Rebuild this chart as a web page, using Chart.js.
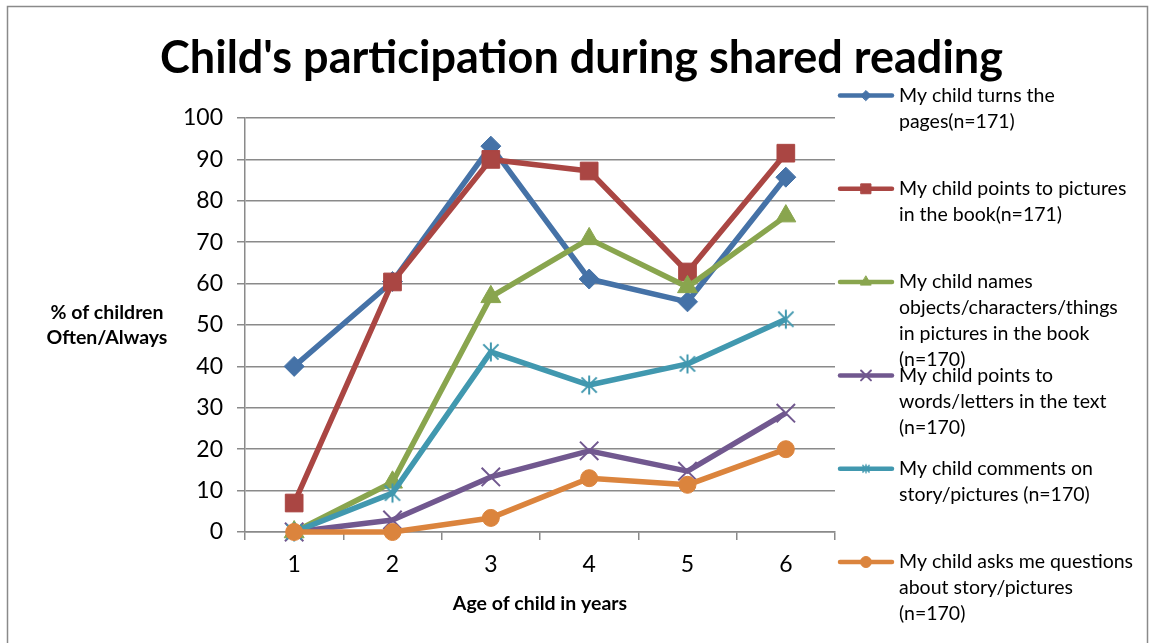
<!DOCTYPE html>
<html>
<head>
<meta charset="utf-8">
<script src="https://cdn.jsdelivr.net/npm/chart.js@4/dist/chart.umd.min.js"></script>
<style>
  html, body { margin: 0; padding: 0; background: #fff; }
  #chart { display: block; }
</style>
</head>
<body>
<canvas id="chart" width="1149" height="643"></canvas>
<script>
// Valores (% de crianças Often/Always por idade)
const ages = ['1', '2', '3', '4', '5', '6'];
const turnsPages = [40, 60.5, 93.2, 61.1, 55.6, 85.7];
const pointsPictures = [7, 60.4, 90, 87.2, 62.8, 91.5];
const namesObjects = [0, 12, 56.8, 70.8, 59.2, 76.3];
const pointsWords = [0, 2.9, 13.3, 19.6, 14.7, 28.7];
const commentsStory = [0, 9.4, 43.5, 35.5, 40.6, 51.4];
const asksQuestions = [0, 0, 3.4, 13, 11.4, 20];

const seriesLabels = [
    'My child turns the pages(n=171)',
    'My child points to pictures in the book(n=171)',
    'My child names objects/characters/things in pictures in the book (n=170)',
    'My child points to words/letters in the text (n=170)',
    'My child comments on story/pictures (n=170)',
    'My child asks me questions about story/pictures (n=170)'
];
const legendLines = [
    ['My child turns the', 'pages(n=171)'],
    ['My child points to pictures', 'in the book(n=171)'],
    ['My child names', 'objects/characters/things', 'in pictures in the book', '(n=170)'],
    ['My child points to', 'words/letters in the text', '(n=170)'],
    ['My child comments on', 'story/pictures (n=170)'],
    ['My child asks me questions', 'about story/pictures', '(n=170)']
];
const chartTitle = "Child's participation during shared reading";
const yTitle = ['% of children', 'Often/Always'];
const xTitle = 'Age of child in years';

const colors = ['#4572A7', '#AA4643', '#89A54E', '#71588F', '#4198AF', '#DB843D'];
const FONT = 'Lato, "Open Sans", sans-serif';
const GRID = '#8a8a8a';

// Marcador asterisco (estilo Excel) para a série "comments"
function makeStar(size, color, lw) {
    const c = document.createElement('canvas');
    c.width = size; c.height = size;
    const g = c.getContext('2d');
    const m = size / 2, r = size / 2 - 1.5;
    g.strokeStyle = color;
    g.lineWidth = lw;
    g.beginPath();
    g.moveTo(m - r * 0.8, m - r * 0.8); g.lineTo(m + r * 0.8, m + r * 0.8);
    g.moveTo(m + r * 0.8, m - r * 0.8); g.lineTo(m - r * 0.8, m + r * 0.8);
    g.moveTo(m, m - r); g.lineTo(m, m + r);
    g.stroke();
    return c;
}
const starBig = makeStar(22, colors[4], 2);
const starSmall = makeStar(12, colors[4], 1.5);

const seriesData = [turnsPages, pointsPictures, namesObjects, pointsWords, commentsStory, asksQuestions];
const pointStyles = ['rectRot', 'rect', 'triangle', 'crossRot', starBig, 'circle'];
const pointRadii = [10, 12.5, 11.5, 13, 11, 8.5];
const pointBorders = [1, 1, 1, 2, 1, 1];
const legendStyles = ['rectRot', 'rect', 'triangle', 'crossRot', starSmall, 'circle'];
const legendRadii = [5, 7, 6, 7, 6, 5.5];

const datasets = seriesData.map((d, i) => ({
    label: seriesLabels[i],
    data: d,
    borderColor: colors[i],
    backgroundColor: colors[i],
    borderWidth: 5.5,
    borderJoinStyle: 'round',
    tension: 0,
    clip: false,
    pointStyle: pointStyles[i],
    pointRadius: pointRadii[i],
    pointHoverRadius: pointRadii[i],
    pointBorderWidth: pointBorders[i],
    pointBackgroundColor: colors[i],
    pointBorderColor: colors[i],
    order: seriesData.length - i // séries posteriores ficam por cima, como no Excel
}));

const decorPlugin = {
    id: 'decor',
    afterDraw(chart) {
        const ctx = chart.ctx;
        ctx.save();

        // moldura
        ctx.strokeStyle = GRID;
        ctx.lineWidth = 1.5;
        ctx.strokeRect(7.5, 6.5, 1140, 700);

        // título (ajustado na largura)
        ctx.fillStyle = '#000';
        ctx.font = 'bold 46px ' + FONT;
        ctx.textBaseline = 'alphabetic';
        ctx.textAlign = 'left';
        const tw = ctx.measureText(chartTitle).width;
        const targetW = 843;
        ctx.save();
        ctx.translate(160, 73);
        ctx.scale(targetW / tw, 1);
        ctx.fillText(chartTitle, 0, 0);
        ctx.restore();

        // títulos dos eixos
        ctx.font = 'bold 19.5px ' + FONT;
        ctx.textAlign = 'center';
        ctx.textBaseline = 'middle';
        ctx.fillText(yTitle[0], 107, 313);
        ctx.fillText(yTitle[1], 107, 338);
        ctx.fillText(xTitle, 540, 604);

        // legenda
        const lx1 = 840, lx2 = 892, tx = 899;
        ctx.font = '19.5px ' + FONT;
        ctx.textAlign = 'left';
        legendLines.forEach((lines, i) => {
            const y = 95.5 + i * 93.3;
            ctx.strokeStyle = colors[i];
            ctx.lineWidth = 4.5;
            ctx.lineCap = 'round';
            ctx.beginPath();
            ctx.moveTo(lx1, y);
            ctx.lineTo(lx2, y);
            ctx.stroke();
            ctx.fillStyle = colors[i];
            ctx.strokeStyle = colors[i];
            ctx.lineWidth = i === 3 ? 2 : 1;
            Chart.helpers.drawPoint(ctx, {
                pointStyle: legendStyles[i],
                radius: legendRadii[i],
                rotation: 0,
                borderWidth: i === 3 ? 2 : 1
            }, (lx1 + lx2) / 2, y);
            ctx.fillStyle = '#000';
            lines.forEach((t, k) => ctx.fillText(t, tx, y + k * 26));
        });
        ctx.restore();
    }
};

new Chart(document.getElementById('chart'), {
    type: 'line',
    data: { labels: ages, datasets: datasets },
    options: {
        responsive: false,
        animation: false,
        devicePixelRatio: 1,
        layout: { padding: { left: 0, right: 314, top: 118, bottom: 0 } },
        plugins: {
            legend: { display: false },
            tooltip: { enabled: false },
            title: { display: false }
        },
        scales: {
            x: {
                type: 'category',
                offset: true,
                grid: {
                    offset: true,
                    drawOnChartArea: false,
                    drawTicks: true,
                    tickLength: 8,
                    color: GRID,
                    lineWidth: 1.5
                },
                border: { display: true, color: GRID, width: 1.5 },
                ticks: { color: '#000', font: { family: FONT, size: 23 }, padding: 11 },
                afterFit: s => { s.height = 111; }
            },
            y: {
                min: 0,
                max: 100,
                grid: { color: GRID, lineWidth: 1.5, tickLength: 8, drawTicks: true },
                border: { display: true, color: GRID, width: 1.5 },
                ticks: { stepSize: 10, color: '#000', font: { family: FONT, size: 23 }, padding: 14 },
                afterFit: s => { s.width = 245; }
            }
        }
    },
    plugins: [decorPlugin]
});
</script>
</body>
</html>
